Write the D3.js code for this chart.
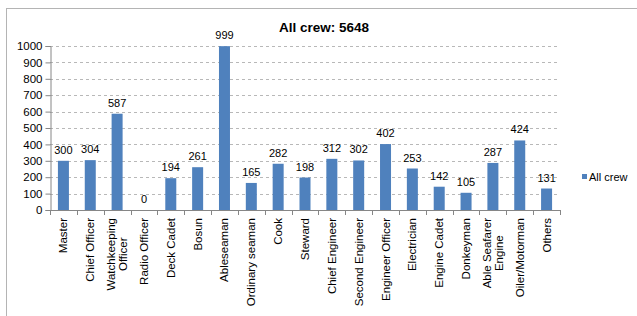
<!DOCTYPE html>
<html>
<head>
<meta charset="utf-8">
<style>
  body { margin: 0; background: #fff; }
  svg { font-family: "Liberation Sans", Arial, sans-serif; }
</style>
</head>
<body>
<div id="chart"></div>
<script src="https://d3js.org/d3.v7.min.js"></script>
<script>
  const categories = [
    ["Master"], ["Chief Officer"], ["Watchkeeping", "Officer"], ["Radio Officer"],
    ["Deck Cadet"], ["Bosun"], ["Ableseaman"], ["Ordinary seaman"], ["Cook"],
    ["Steward"], ["Chief Engineer"], ["Second Engineer"], ["Engineer Officer"],
    ["Electrician"], ["Engine Cadet"], ["Donkeyman"], ["Able Seafarer", "Engine"],
    ["Oiler/Motorman"], ["Others"]
  ];
  const values = [300, 304, 587, 0, 194, 261, 999, 165, 282, 198, 312, 302, 402, 253, 142, 105, 287, 424, 131];
  const yTicks = [0, 100, 200, 300, 400, 500, 600, 700, 800, 900, 1000];
  const seriesName = "All crew";
  const title = "All crew: 5648";

  const W = 637, H = 316;
  const svg = d3.select('#chart').append('svg')
    .attr('width', W).attr('height', H);

  // chart frame (clipped on right/bottom)
  svg.append('rect')
    .attr('x', 6.5).attr('y', 8.5)
    .attr('width', 700).attr('height', 400)
    .attr('fill', 'none').attr('stroke', '#b4b4b4');

  const x = d3.scaleBand()
    .domain(d3.range(categories.length))
    .range([50, 560]);
  const y = d3.scaleLinear().domain([0, 1000]).range([210, 46]);

  // gridlines
  svg.append('g')
    .selectAll('line')
    .data(yTicks.filter(d => d > 0))
    .enter().append('line')
    .attr('x1', 50).attr('x2', 560)
    .attr('y1', d => Math.round(y(d)) + 0.5)
    .attr('y2', d => Math.round(y(d)) + 0.5)
    .attr('stroke', '#b8b8b8')
    .attr('stroke-dasharray', '3,3');

  // bars
  const bw = 11;
  svg.append('g')
    .selectAll('rect')
    .data(values)
    .enter().append('rect')
    .attr('x', (d, i) => x(i) + x.bandwidth() / 2 - bw / 2)
    .attr('y', d => y(d))
    .attr('width', bw)
    .attr('height', d => y(0) - y(d))
    .attr('fill', '#4f81bd');

  // data labels
  svg.append('g')
    .selectAll('text')
    .data(values)
    .enter().append('text')
    .attr('x', (d, i) => x(i) + x.bandwidth() / 2)
    .attr('y', d => y(d) - 7)
    .attr('text-anchor', 'middle')
    .attr('font-size', '11px')
    .attr('fill', '#000')
    .text(d => d);

  // y axis
  const yAxis = svg.append('g')
    .attr('transform', 'translate(50.5,0)')
    .call(d3.axisLeft(y).tickValues(yTicks).tickFormat(d3.format('d')).tickSize(5).tickPadding(3));
  yAxis.select('.domain').attr('stroke', '#868686');
  yAxis.selectAll('.tick line').attr('stroke', '#868686');
  yAxis.selectAll('.tick text')
    .attr('font-size', '11.5px')
    .attr('font-family', '"Liberation Sans", Arial, sans-serif')
    .attr('fill', '#000');

  // x axis line + ticks between categories
  svg.append('line')
    .attr('x1', 50).attr('x2', 560)
    .attr('y1', 210.5).attr('y2', 210.5)
    .attr('stroke', '#868686');
  svg.append('g')
    .selectAll('line')
    .data(d3.range(categories.length + 1))
    .enter().append('line')
    .attr('x1', i => Math.round(50 + i * x.step()) + 0.5)
    .attr('x2', i => Math.round(50 + i * x.step()) + 0.5)
    .attr('y1', 210).attr('y2', 215)
    .attr('stroke', '#868686');

  // x labels (rotated)
  const lbl = svg.append('g')
    .selectAll('text')
    .data(categories)
    .enter().append('text')
    .attr('transform', (d, i) => {
      const cx = x(i) + x.bandwidth() / 2;
      return `translate(${cx},218) rotate(-90)`;
    })
    .attr('text-anchor', 'end')
    .attr('font-size', '11.5px')
    .attr('fill', '#000');
  lbl.each(function(d) {
    const t = d3.select(this);
    const n = d.length;
    d.forEach((line, k) => {
      t.append('tspan')
        .attr('x', 0)
        .attr('text-anchor', n > 1 ? 'middle' : 'end')
        .attr('y', 4 + (k - (n - 1) / 2) * 12.5)
        .text(line);
    });
  });
  // multi-line labels: lines centred on each other, top aligned with the rest
  lbl.filter(d => d.length > 1).each(function(d) {
    const t = d3.select(this);
    const widths = [];
    t.selectAll('tspan').each(function() { widths.push(this.getComputedTextLength()); });
    const maxW = d3.max(widths);
    t.selectAll('tspan').attr('x', -maxW / 2);
  });

  // title
  svg.append('text')
    .attr('x', 324).attr('y', 32)
    .attr('text-anchor', 'middle')
    .attr('font-size', '13.5px')
    .attr('font-weight', 'bold')
    .attr('fill', '#000')
    .text(title);

  // legend
  svg.append('rect')
    .attr('x', 582).attr('y', 174)
    .attr('width', 5).attr('height', 5)
    .attr('fill', '#4f81bd');
  svg.append('text')
    .attr('x', 589).attr('y', 180.5)
    .attr('font-size', '11px')
    .attr('fill', '#000')
    .text(seriesName);
</script>
</body>
</html>
